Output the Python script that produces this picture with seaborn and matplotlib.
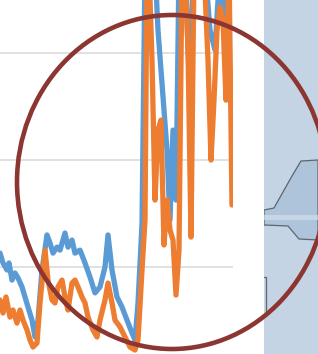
import numpy as np
import pandas as pd
import matplotlib
matplotlib.use("Agg")
import matplotlib.pyplot as plt
import seaborn as sns
from matplotlib.patches import Ellipse, Polygon

# series (x = time step, y = value, gridlines at 50/100/150)
blue_t = [0, 3, 7, 9, 12, 15, 18, 22, 25, 28, 32, 35, 38, 42, 47, 50, 53, 57, 60, 65,
          68, 72, 75, 80, 85, 90, 95, 100, 105, 108, 112, 117, 122, 127, 132, 135, 138,
          142, 145, 150, 155, 158, 161, 164, 167, 170, 173, 176, 179, 185, 190, 193,
          196, 205, 210, 215, 220, 226, 229, 232]
blue_v = [56.5, 51.9, 48.6, 51.9, 43.9, 47.2, 44.9, 40.7, 36, 31.3, 25.2, 17.3, 25.2,
          48.6, 65, 61.2, 56.5, 59.3, 57.9, 65.9, 59.3, 62.6, 56.5, 57.9, 51.9, 45.3,
          37.9, 40.7, 50, 65, 48.6, 36, 31.3, 25.2, 19.2, 15.9, 33.2, 70, 190, 190, 190,
          160.7, 142, 123.4, 104.7, 72, 114, 81.3, 190, 190, 128, 190, 190, 190, 160.7,
          151.4, 190, 156, 190, 190]

orange_t = [0, 3, 6, 10, 13, 17, 20, 23, 27, 30, 33, 37, 40, 45, 48, 52, 55, 58, 62,
            65, 68, 72, 75, 78, 82, 85, 88, 93, 97, 100, 105, 108, 112, 115, 120, 125,
            130, 135, 138, 142, 145, 147, 149, 152, 155, 158, 161, 164, 167, 170, 173,
            176, 179, 182, 185, 188, 191, 194, 197, 200, 204, 208, 211, 214, 217, 220,
            223, 226, 229, 232]
orange_v = [34.6, 28.5, 36, 26.6, 29.9, 23.8, 29.9, 25.2, 20.6, 15.9, 12.6, 14.5, 33.2,
            57.9, 43.9, 34.6, 33.2, 40.7, 43.9, 36, 29.9, 42.5, 43.9, 40.7, 36, 33.2,
            26.6, 20.6, 17.3, 25.2, 34.6, 42.5, 33.2, 25.2, 22, 17.3, 12.6, 11.2, 15.9,
            48.6, 72, 190, 190, 146.7, 81.3, 114, 118.7, 60.3, 81.3, 67.3, 62.6, 36.9,
            57.9, 190, 190, 151.4, 64, 190, 190, 190, 190, 146.7, 100, 128, 160.7, 171.5,
            165.4, 128, 190, 79]

grid_vals = [50, 100, 150]

sns.set_style("white")

W, H = 318, 354
fig = plt.figure(figsize=(W / 100, H / 100), dpi=100)
fig.patch.set_facecolor("white")

# main chart area (cropped)
ax = fig.add_axes([0, 0, 233 / W, 1])
ax.set_facecolor("white")
for y in grid_vals:
    ax.axhline(y, color="#d9d9d9", lw=1.1, zorder=0)
sns.lineplot(x=blue_t, y=blue_v, ax=ax, color="#5b9bd5", lw=3.8, sort=False,
             estimator=None)
sns.lineplot(x=orange_t, y=orange_v, ax=ax, color="#ed7d31", lw=3.8, sort=False,
             estimator=None)
ax.set_xlim(0, 233)
ax.set_ylim(9.35, 174.8)
ax.set_xticks([])
ax.set_yticks([])
ax.set_xlabel("")
ax.set_ylabel("")
for s in ax.spines.values():
    s.set_visible(False)

# right side panel with a slider handle
pax = fig.add_axes([264 / W, 0, 54 / W, 1])
pax.set_facecolor("#c4d4e4")
pax.set_xlim(264, 318)
pax.set_ylim(H, 0)
pax.set_xticks([])
pax.set_yticks([])
for s in pax.spines.values():
    s.set_visible(False)
handle = Polygon([(264, 210), (274, 208), (292, 176), (301, 161), (318, 160),
                  (318, 240), (299, 239), (288, 226), (264, 225)],
                 closed=True, facecolor="#aec4da", edgecolor="#5d6670", lw=0.9)
pax.add_patch(handle)
pax.fill_between([264, 318], 215, 220, color="#d3dfeb", alpha=0.7, lw=0)
pax.plot([266, 266], [277, 312], color="#5d6670", lw=0.9)
pax.plot([264, 266], [277, 277], color="#5d6670", lw=0.9)

# annotation circle on top
oax = fig.add_axes([0, 0, 1, 1])
oax.set_xlim(0, W)
oax.set_ylim(H, 0)
oax.patch.set_alpha(0)
oax.axis("off")
oax.add_patch(Ellipse((172, 182), 310, 334, fill=False, edgecolor="#8c3632", lw=3.3))

fig.savefig("out.png", dpi=100)
